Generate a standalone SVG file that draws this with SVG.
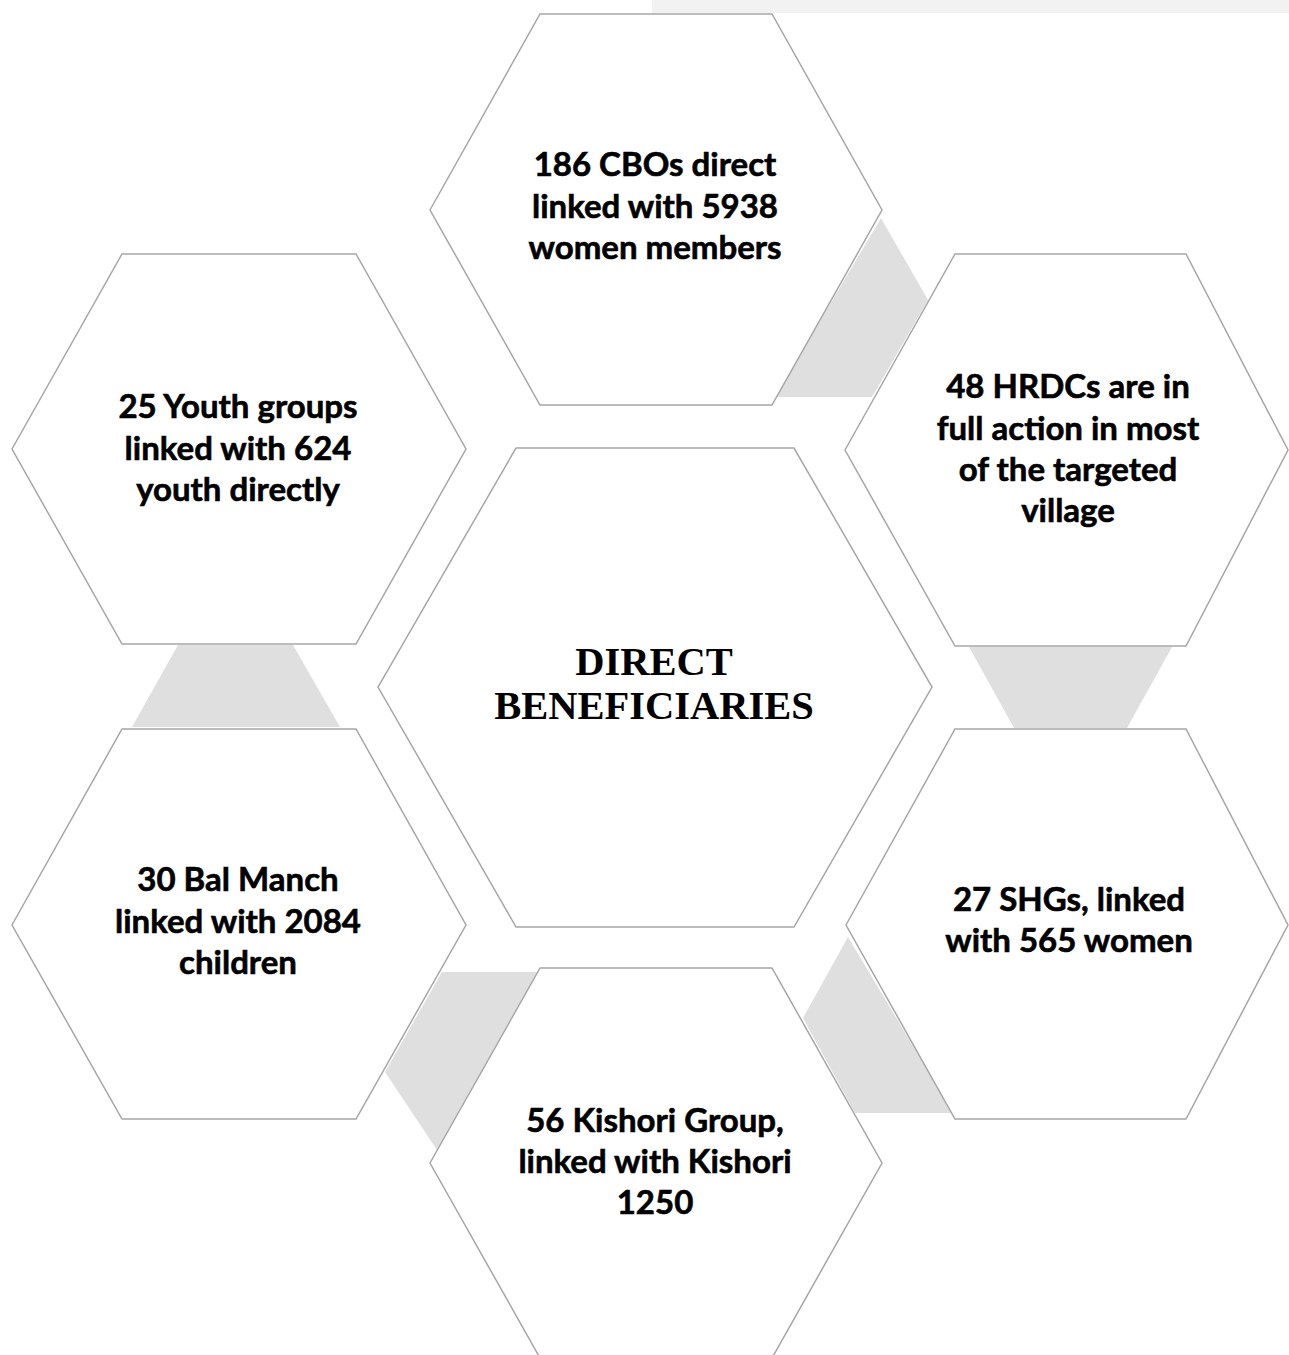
<svg xmlns="http://www.w3.org/2000/svg" width="1289" height="1355" viewBox="0 0 1289 1355">
  <style>
    .hex { fill: #ffffff; stroke: #a6a6a6; stroke-width: 1.5; }
    .conn { fill: #dfdfdf; stroke: none; }
    .lbl { font-family: Lato, "Open Sans", "Liberation Sans", sans-serif; font-weight: bold; font-size: 33px; fill: #000000; stroke: #000000; stroke-width: 0.6; text-anchor: middle; }
    .title { font-family: "Liberation Serif", "Times New Roman", serif; font-weight: bold; font-size: 40.5px; fill: #000000; text-anchor: middle; }
  </style>
  <rect x="0" y="0" width="1289" height="1355" fill="#ffffff"/>
  <rect x="652" y="0" width="637" height="13" fill="#f2f2f2"/>
  <g id="connectors">
    <polygon class="conn" points="881,218 928,300 872,397 775,397"/>
    <polygon class="conn" points="969,647 1172,647 1127,728 1014,728"/>
    <polygon class="conn" points="848,937 803,1018 855,1113 953,1113"/>
    <polygon class="conn" points="442,972 537,972 437,1150 385,1072"/>
    <polygon class="conn" points="178,645 293,645 340,727 132,727"/>
  </g>
  <g id="node-cbos">
    <polygon class="hex" points="430,210 540,14 772,14 882,210 772,405 540,405"/>
    <text class="lbl" x="655" y="176">186 CBOs direct</text>
    <text class="lbl" x="655" y="218">linked with 5938</text>
    <text class="lbl" x="655" y="259">women members</text>
  </g>
  <g id="node-hrdcs">
    <polygon class="hex" points="845,450 955,254 1186,254 1288,450 1186,646 955,646"/>
    <text class="lbl" x="1068" y="398">48 HRDCs are in</text>
    <text class="lbl" x="1068" y="440">full action in most</text>
    <text class="lbl" x="1068" y="481">of the targeted</text>
    <text class="lbl" x="1068" y="522">village</text>
  </g>
  <g id="node-shgs">
    <polygon class="hex" points="846,925 955,729 1186,729 1288,925 1186,1119 955,1119"/>
    <text class="lbl" x="1069" y="911">27 SHGs, linked</text>
    <text class="lbl" x="1069" y="952">with 565 women</text>
  </g>
  <g id="node-kishori">
    <polygon class="hex" points="430,1163 540,968 772,968 882,1163 772,1358 540,1358"/>
    <text class="lbl" x="655" y="1132">56 Kishori Group,</text>
    <text class="lbl" x="655" y="1173">linked with Kishori</text>
    <text class="lbl" x="655" y="1214">1250</text>
  </g>
  <g id="node-balmanch">
    <polygon class="hex" points="12,925 122,729 356,729 466,925 356,1119 122,1119"/>
    <text class="lbl" x="238" y="891">30 Bal Manch</text>
    <text class="lbl" x="238" y="933">linked with 2084</text>
    <text class="lbl" x="238" y="974">children</text>
  </g>
  <g id="node-youth">
    <polygon class="hex" points="12,449 122,254 356,254 466,449 356,644 122,644"/>
    <text class="lbl" x="238" y="418">25 Youth groups</text>
    <text class="lbl" x="238" y="460">linked with 624</text>
    <text class="lbl" x="238" y="501">youth directly</text>
  </g>
  <g id="node-center">
    <polygon class="hex" points="378,687 516,448 794,448 932,687 794,927 516,927"/>
    <text class="title" x="654" y="675">DIRECT</text>
    <text class="title" x="654" y="719">BENEFICIARIES</text>
  </g>
</svg>
